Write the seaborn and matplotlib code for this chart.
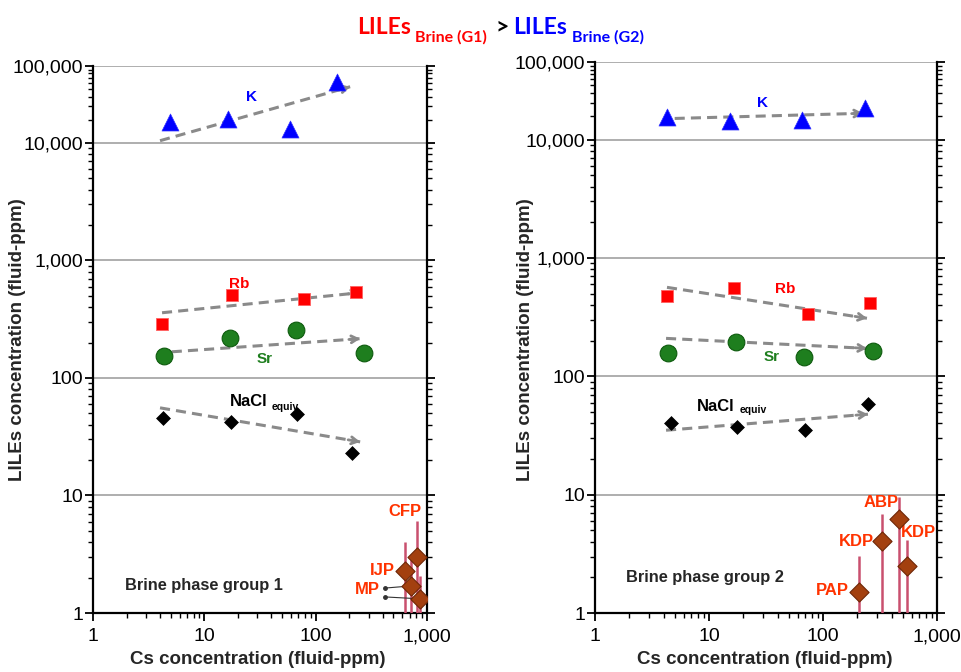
import numpy as np
import matplotlib
matplotlib.use("Agg")
import matplotlib.pyplot as plt
from matplotlib.ticker import FixedLocator, FuncFormatter, NullFormatter
import seaborn as sns

sns.set_style("ticks")
plt.rcParams["font.family"] = ["Liberation Sans", "DejaVu Sans"]

# ---------------- data (fluid-ppm) ----------------
# Group 1
g1_k_cs = [4.9, 16.3, 58.9, 155]
g1_k = [18950, 20700, 15400, 62700]
g1_rb_cs = [4.17, 17.7, 78.7, 231]
g1_rb = [290, 511, 473, 542]
g1_sr_cs = [4.35, 17.0, 66.7, 272]
g1_sr = [155, 220, 257, 164]
g1_na_cs = [4.25, 17.4, 68, 212]
g1_na = [45.8, 42.4, 49.6, 23.1]
g1_inc_names = ["CFP", "IJP", "MP", "MP"]
g1_inc_cs = [815, 635, 720, 867]
g1_inc_val = [3.0, 2.28, 1.70, 1.32]
g1_inc_top = [6.1, 4.0, 2.8, 2.07]
g1_trend_k = ([4.0, 204], [10700, 53800])
g1_trend_rb = ([4.17, 251], [359, 532])
g1_trend_sr = ([5.1, 251], [167, 216])
g1_trend_na = ([4.0, 251], [55.7, 28.6])

# Group 2
g2_k_cs = [4.28, 15.3, 65.4, 234]
g2_k = [19300, 17100, 17700, 25300]
g2_rb_cs = [4.28, 16.6, 73.9, 258]
g2_rb = [473, 553, 334, 413]
g2_sr_cs = [4.37, 17.3, 68.1, 275]
g2_sr = [156, 194, 145, 163]
g2_na_cs = [4.64, 17.6, 69.5, 248]
g2_na = [40.1, 37.1, 35.0, 58.0]
g2_inc_names = ["PAP", "KDP", "ABP", "KDP"]
g2_inc_cs = [207, 329, 464, 545]
g2_inc_val = [1.50, 4.05, 6.2, 2.49]
g2_inc_top = [3.03, 6.85, 9.5, 4.13]
g2_trend_k = ([5.0, 224], [18700, 21800])
g2_trend_rb = ([4.28, 243], [564, 309])
g2_trend_sr = ([4.2, 243], [209, 172])
g2_trend_na = ([4.2, 248], [35.0, 47.8])

y_major = [1, 10, 100, 1000, 10000, 100000]
x_major = [1, 10, 100, 1000]

# ---------------- scale: top decade compressed ----------------
C = 0.655


def fwd(y):
    y = np.asarray(y, dtype=float)
    t = np.log10(np.clip(y, 1e-12, None))
    return np.where(t <= 4, t, 4 + (t - 4) * C)


def inv(t):
    t = np.asarray(t, dtype=float)
    return 10 ** np.where(t <= 4, t, 4 + (t - 4) / C)


W, H = 961, 672
fig = plt.figure(figsize=(W / 100, H / 100), dpi=100)


def px_axes(x0, x1, ytop, ybot):
    return fig.add_axes([x0 / W, (H - ybot) / H, (x1 - x0) / W, (ybot - ytop) / H])


ax1 = px_axes(93, 427, 66, 613)
ax2 = px_axes(595, 937, 62, 613)

BLUE = "#0000FF"
RED = "#FF0000"
GREEN = "#1E7E1E"
LBL = "#FF3300"
BROWN = "#A3400F"
ERR = "#C9506E"
GRAY = "#8A8A8A"


def trend(ax, tr):
    (x0, x1), (y0, y1) = tr
    ax.plot([x0, x1], [y0, y1], color=GRAY, lw=2.2, dashes=(3.3, 2.0),
            solid_capstyle="butt", zorder=2)
    lx0, lx1 = np.log10(x0), np.log10(x1)
    f0, f1 = float(fwd(y0)), float(fwd(y1))
    xs = 10 ** (lx1 - 0.06 * (lx1 - lx0))
    ys = float(inv(f1 - 0.06 * (f1 - f0)))
    ax.annotate("", xy=(x1, y1), xytext=(xs, ys),
                arrowprops=dict(arrowstyle="->,head_length=0.45,head_width=0.25",
                                color=GRAY, lw=2.0, shrinkA=0, shrinkB=0),
                zorder=2)


def panel(ax, k_cs, k, rb_cs, rb, sr_cs, sr, na_cs, na,
          inc_cs, inc_val, inc_top, trends):
    ax.set_xscale("log")
    ax.set_yscale("function", functions=(fwd, inv))

    for tr in trends:
        trend(ax, tr)

    sns.scatterplot(x=k_cs, y=k, ax=ax, marker="^", s=150, color=BLUE,
                    edgecolor="#3030ff", linewidth=0.5, legend=False, zorder=4)
    sns.scatterplot(x=rb_cs, y=rb, ax=ax, marker="s", s=80, color=RED,
                    edgecolor="#ff6060", linewidth=0.6, legend=False, zorder=4)
    sns.scatterplot(x=sr_cs, y=sr, ax=ax, marker="o", s=145, color=GREEN,
                    edgecolor="#0d5a0d", linewidth=0.8, legend=False, zorder=4)
    sns.scatterplot(x=na_cs, y=na, ax=ax, marker="D", s=50, color="black",
                    edgecolor="black", linewidth=0.5, legend=False, zorder=4)

    ax.vlines(inc_cs, [0.5] * len(inc_cs), inc_top, color=ERR, lw=1.8, zorder=3)
    sns.scatterplot(x=inc_cs, y=inc_val, ax=ax, marker="D", s=95, color=BROWN,
                    edgecolor="#6e2606", linewidth=0.8, legend=False, zorder=5)

    ax.set_xlim(1, 1000)
    ax.set_ylim(1, 100000)
    ax.set_xlabel("")
    ax.set_ylabel("")

    ax.yaxis.set_major_locator(FixedLocator(y_major))
    ax.yaxis.set_minor_locator(FixedLocator(
        [m * 10 ** d for d in range(0, 5) for m in range(2, 10)]))
    ax.yaxis.set_major_formatter(FuncFormatter(lambda v, p: f"{v:,.0f}"))
    ax.yaxis.set_minor_formatter(NullFormatter())
    ax.xaxis.set_major_locator(FixedLocator(x_major))
    ax.xaxis.set_minor_locator(FixedLocator(
        [m * 10 ** d for d in range(0, 3) for m in range(2, 10)]))
    ax.xaxis.set_major_formatter(FuncFormatter(lambda v, p: f"{v:,.0f}"))
    ax.xaxis.set_minor_formatter(NullFormatter())

    ax.yaxis.grid(True, which="major", color="#a8a8a8", lw=1.3, zorder=0)
    ax.xaxis.grid(False)
    ax.set_axisbelow(True)

    for s in ("left", "right", "bottom"):
        ax.spines[s].set_visible(True)
        ax.spines[s].set_linewidth(1.6)
        ax.spines[s].set_color("black")
    ax.spines["top"].set_visible(False)

    ax.tick_params(axis="y", which="both", direction="out", left=True, right=True,
                   labelsize=14, colors="black", pad=1)
    ax.tick_params(axis="y", which="major", length=6, width=1.3)
    ax.tick_params(axis="y", which="minor", length=3.5, width=1.0)
    ax.tick_params(axis="x", which="both", direction="out", bottom=True, top=False,
                   labelsize=14, colors="black", pad=5)
    ax.tick_params(axis="x", which="major", length=6, width=1.3)
    ax.tick_params(axis="x", which="minor", length=3.5, width=1.0)


panel(ax1, g1_k_cs, g1_k, g1_rb_cs, g1_rb, g1_sr_cs, g1_sr, g1_na_cs, g1_na,
      g1_inc_cs, g1_inc_val, g1_inc_top,
      [g1_trend_k, g1_trend_rb, g1_trend_sr, g1_trend_na])
panel(ax2, g2_k_cs, g2_k, g2_rb_cs, g2_rb, g2_sr_cs, g2_sr, g2_na_cs, g2_na,
      g2_inc_cs, g2_inc_val, g2_inc_top,
      [g2_trend_k, g2_trend_rb, g2_trend_sr, g2_trend_na])

bold = dict(fontweight="bold")
EL = 11     # element label size
IL = 12     # inclusion label size

# element labels, panel 1
ax1.text(26.3, 39000, "K", color=BLUE, fontsize=EL, ha="center", va="center", **bold)
ax1.text(20.5, 634, "Rb", color=RED, fontsize=EL, ha="center", va="center", **bold)
ax1.text(35.1, 146, "Sr", color=GREEN, fontsize=EL, ha="center", va="center", **bold)
ax1.text(17.0, 62.7, "NaCl", color="black", fontsize=12, ha="left", va="center", **bold)
ax1.text(40.5, 56.9, "equiv", color="black", fontsize=7.5, ha="left", va="center", **bold)
ax1.text(635, 7.25, g1_inc_names[0], color=LBL, fontsize=IL, ha="center", va="center", **bold)
ax1.text(395, 2.28, g1_inc_names[1], color=LBL, fontsize=IL, ha="center", va="center", **bold)
ax1.text(292, 1.60, g1_inc_names[2], color=LBL, fontsize=IL, ha="center", va="center", **bold)
for xe, ye, ys in ((g1_inc_cs[2], g1_inc_val[2], 1.63), (g1_inc_cs[3], g1_inc_val[3], 1.37)):
    ax1.plot([420, xe], [ys, ye], color="#333333", lw=0.8, zorder=4)
    ax1.plot([420], [ys], marker="o", ms=2.5, color="#333333", zorder=4)
ax1.text(0.096, 0.051, "Brine phase group 1", transform=ax1.transAxes,
         fontsize=11.8, ha="left", va="center", **bold)

# element labels, panel 2
ax2.text(29.2, 29400, "K", color=BLUE, fontsize=EL, ha="center", va="center", **bold)
ax2.text(46.4, 542, "Rb", color=RED, fontsize=EL, ha="center", va="center", **bold)
ax2.text(35.7, 145, "Sr", color=GREEN, fontsize=EL, ha="center", va="center", **bold)
ax2.text(7.85, 55.8, "NaCl", color="black", fontsize=12, ha="left", va="center", **bold)
ax2.text(18.6, 51.6, "equiv", color="black", fontsize=7.5, ha="left", va="center", **bold)
ax2.text(122, 1.56, g2_inc_names[0], color=LBL, fontsize=IL, ha="center", va="center", **bold)
ax2.text(195, 4.05, g2_inc_names[1], color=LBL, fontsize=IL, ha="center", va="center", **bold)
ax2.text(323, 8.65, g2_inc_names[2], color=LBL, fontsize=IL, ha="center", va="center", **bold)
ax2.text(681, 4.83, g2_inc_names[3], color=LBL, fontsize=IL, ha="center", va="center", **bold)
ax2.text(0.091, 0.064, "Brine phase group 2", transform=ax2.transAxes,
         fontsize=11.8, ha="left", va="center", **bold)

# axis labels
for xc in (18, 525):
    fig.text(xc / W, 1 - 340 / H, "LILEs concentration (fluid-ppm)", rotation=90,
             ha="center", va="center", fontsize=13.5, **bold)
for xc in (258, 765):
    fig.text(xc / W, 1 - 660 / H, "Cs concentration (fluid-ppm)",
             ha="center", va="center", fontsize=13.5, **bold)

# title
tf = ["Lato", "DejaVu Sans"]
fig.text(357 / W, 1 - 34 / H, "LILEs", color=RED, fontsize=16.5, family=tf,
         ha="left", va="baseline", **bold)
fig.text(415 / W, 1 - 42 / H, "Brine (G1)", color=RED, fontsize=11.5, family=tf,
         ha="left", va="baseline", **bold)
fig.text(495 / W, 1 - 27 / H, ">", color="black", fontsize=16.5, family=tf,
         ha="left", va="center", **bold)
fig.text(513 / W, 1 - 34 / H, "LILEs", color=BLUE, fontsize=16.5, family=tf,
         ha="left", va="baseline", **bold)
fig.text(572 / W, 1 - 42 / H, "Brine (G2)", color=BLUE, fontsize=11.5, family=tf,
         ha="left", va="baseline", **bold)

fig.savefig("out.png", dpi=100)
